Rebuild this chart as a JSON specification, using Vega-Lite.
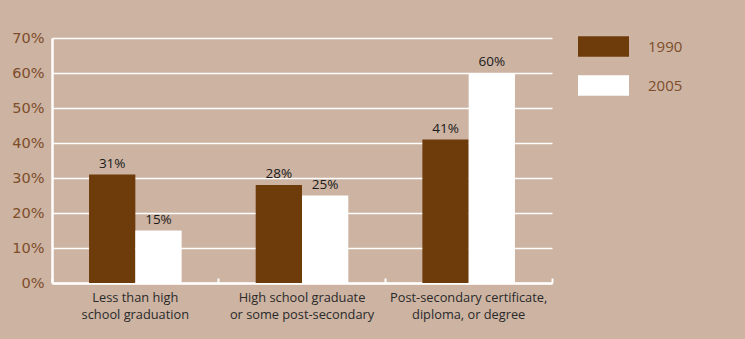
{
  "$schema": "https://vega.github.io/schema/vega-lite/v6.json",
  "autosize": "none",
  "width": 500,
  "height": 245,
  "padding": {"left": 52, "top": 38, "right": 193, "bottom": 56},
  "background": "#CCB3A2",
  "config": {
    "view": {"stroke": null},
    "font": "Open Sans"
  },
  "data": {
    "values": [
      {"cat": "Less than high|school graduation", "year": "1990", "value": 31},
      {"cat": "Less than high|school graduation", "year": "2005", "value": 15},
      {"cat": "High school graduate|or some post-secondary", "year": "1990", "value": 28},
      {"cat": "High school graduate|or some post-secondary", "year": "2005", "value": 25},
      {"cat": "Post-secondary certificate,|diploma, or degree", "year": "1990", "value": 41},
      {"cat": "Post-secondary certificate,|diploma, or degree", "year": "2005", "value": 60}
    ]
  },
  "transform": [{"calculate": "datum.value + '%'", "as": "label"}],
  "encoding": {
    "x": {
      "field": "cat", "type": "nominal", "sort": null,
      "scale": {"paddingInner": 0, "paddingOuter": 0},
      "axis": {
        "title": null, "labelAngle": 0,
        "labelExpr": "split(datum.label, '|')",
        "labelFont": "Open Sans", "labelFontSize": 12.8, "labelColor": "#2a2a2a",
        "labelLineHeight": 17.5, "labelPadding": 13,
        "domainColor": "#ffffff", "domainWidth": 2.5,
        "tickColor": "#ffffff", "tickWidth": 2, "tickSize": -5,
        "bandPosition": 1, "tickExtra": true, "grid": false
      }
    },
    "xOffset": {"field": "year", "type": "nominal", "scale": {"paddingInner": 0, "paddingOuter": 0.8}},
    "y": {
      "field": "value", "type": "quantitative",
      "scale": {"domain": [0, 70]},
      "axis": {
        "title": null, "values": [0, 10, 20, 30, 40, 50, 60, 70],
        "labelExpr": "datum.value + '%'",
        "labelFont": "DejaVu Sans", "labelFontSize": 14.5, "labelColor": "#7E4D2A",
        "labelPadding": 8, "ticks": false,
        "domainColor": "#ffffff", "domainWidth": 2.5,
        "grid": true, "gridColor": "#ffffff", "gridWidth": 1.5
      }
    }
  },
  "layer": [
    {
      "mark": {"type": "bar"},
      "encoding": {
        "color": {
          "field": "year", "type": "nominal",
          "scale": {"domain": ["1990", "2005"], "range": ["#6E3B0B", "#ffffff"]},
          "legend": {
            "title": null, "orient": "none", "legendX": 526, "legendY": -17,
            "symbolType": "M-1,-0.4H1V0.4H-1Z", "symbolSize": 2601,
            "symbolStrokeWidth": 0, "symbolOpacity": 1,
            "rowPadding": 3, "labelOffset": 19,
            "labelFont": "Open Sans", "labelFontSize": 15, "labelColor": "#7E4D2A"
          }
        }
      }
    },
    {
      "mark": {"type": "text", "baseline": "alphabetic", "dy": -7, "fontSize": 13.5, "color": "#1a1a1a", "font": "Open Sans"},
      "encoding": {
        "text": {"field": "label", "type": "nominal"},
        "detail": {"field": "year"}
      }
    }
  ]
}
